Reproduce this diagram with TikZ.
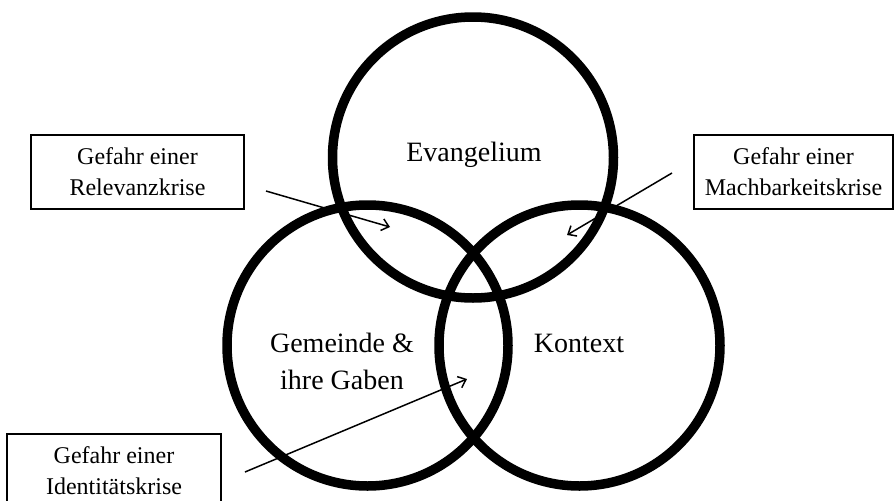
\documentclass[tikz,border=0pt]{standalone}
\usepackage{fontspec}
\setmainfont{Liberation Serif}
\usetikzlibrary{arrows.meta}
\begin{document}
\begin{tikzpicture}[x=1pt,y=-1pt,
  ring/.style={line width=9.5pt, black},
  biglabel/.style={font=\fontsize{28}{37}\selectfont, align=center, inner sep=0pt},
  infobox/.style={draw, line width=1.8pt, font=\fontsize{24}{31}\selectfont, align=center, minimum height=74pt, inner sep=0pt},
  pointer/.style={line width=1.5pt, -{Straight Barb[length=7pt,width=12pt,line width=1.5pt]}}
]
\useasboundingbox (0,0) rectangle (895,501);
\fill[white] (0,0) rectangle (895,501);
% circle centres
\coordinate (cE) at (473,157.5);
\coordinate (cG) at (367.5,345.5);
\coordinate (cK) at (579.5,345.5);
\draw[ring] (cE) circle[radius=140.5pt];
\draw[ring] (cG) circle[radius=140.5pt];
\draw[ring] (cK) circle[radius=140.5pt];
% labels
\node[biglabel] (lE) at (474,155) {Evangelium};
\node[biglabel] (lG) at (342,361) {Gemeinde \&\\ihre Gaben};
\node[biglabel] (lK) at (579,343) {Kontext};
% boxes
\node[infobox, minimum width=213pt] (bR) at (137.5,172) {Gefahr einer\\Relevanzkrise};
\node[infobox, minimum width=199pt] (bM) at (793.5,172) {Gefahr einer\\Machbarkeitskrise};
\node[infobox, minimum width=214pt] (bI) at (114,471) {Gefahr einer\\Identitätskrise};
% arrows
\coordinate (sR) at (266,191);
\coordinate (eR) at (390,227);
\coordinate (sM) at (672,173);
\coordinate (eM) at (567,235);
\coordinate (sI) at (245,472);
\coordinate (eI) at (467,379);
\draw[pointer] (sR) -- (eR);
\draw[pointer] (sM) -- (eM);
\draw[pointer] (sI) -- (eI);
\end{tikzpicture}
\end{document}
